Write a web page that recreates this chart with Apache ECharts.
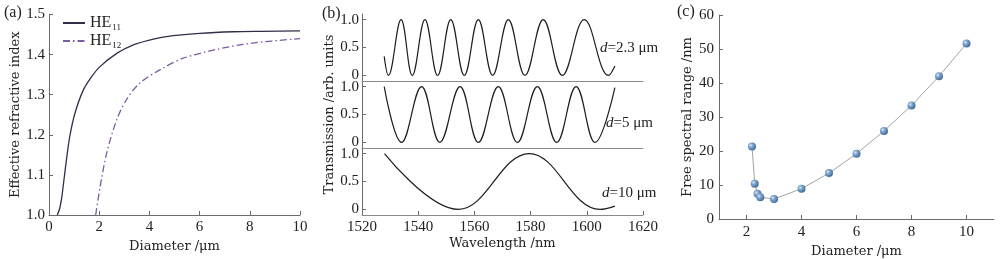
<!DOCTYPE html>
<html><head><meta charset="utf-8">
<script src="https://cdn.jsdelivr.net/npm/echarts@6/dist/echarts.min.js"></script>
<style>html,body{margin:0;padding:0;background:#fff}#c{width:1000px;height:259px}</style>
</head><body><div id="c"></div>
<script>
// ---- Panel (a): effective refractive index vs diameter ----
const he11Diameter = [0.33,0.42,0.5,0.6,0.7,0.83,1.04,1.37,1.7,2.03,2.7,3.36,4.0,4.68,6.01,7.34,8.5,10];
const he11Index    = [1.0,1.015,1.04,1.09,1.14,1.197,1.255,1.312,1.345,1.37,1.403,1.424,1.436,1.445,1.453,1.457,1.458,1.459];
const he12Diameter = [1.86,2.03,2.3,2.7,3.09,3.62,4.42,5.35,6.68,8.01,10];
const he12Index    = [1.0,1.068,1.155,1.238,1.288,1.329,1.362,1.391,1.413,1.428,1.440];
const aXTicks = [0,2,4,6,8,10];
const aYTicks = [1.0,1.1,1.2,1.3,1.4,1.5];

// ---- Panel (b): transmission spectra (peaks / troughs) ----
const t23Wavelength = [1527.9,1529.4,1533.9,1537.9,1542.4,1546.9,1551.6,1556.4,1561.4,1566.5,1572.1,1578.0,1584.5,1591.3,1599.1,1607.7,1610];
const t23Value      = [0.34,0,1,0,1,0,1,0,1,0,1,0,1,0,1,0,0.17];
const t5Wavelength  = [1527.9,1534.1,1541.2,1547.7,1554.9,1561.4,1568.5,1575.3,1582.4,1589.3,1596.2,1602.9,1610];
const t5Value       = [1,0,1,0,1,0,1,0,1,0,1,0,0.98];
const t10Wavelength = [1528,1554.3,1579.5,1604.7,1610];
const t10Value      = [1,0,1,0,0.06];
const bXTicks = [1520,1540,1560,1580,1600,1620];
const bYTicks = [0,0.5,1];
const bLabels = ['2.3 μm','5 μm','10 μm'];

// ---- Panel (c): free spectral range vs diameter ----
const fsrDiameter = [2.2,2.3,2.4,2.5,3,4,5,6,7,8,9,10];
const fsrValue    = [21.3,10.4,7.4,6.4,5.9,8.9,13.5,19.2,25.9,33.4,42.0,51.6];
const cXTicks = [2,4,6,8,10];
const cYTicks = [0,10,20,30,40,50,60];

const zip = (a,b) => a.map((v,i)=>[v,b[i]]);
const NUM = 'Liberation Serif', TXT = 'DejaVu Serif';
const AX = '#6a6a6a';

function axBase(extra){
  return Object.assign({
    type:'value',
    splitLine:{show:false},
    axisLine:{show:true,lineStyle:{color:AX,width:1}},
    axisTick:{show:true,inside:true,length:4,lineStyle:{color:AX,width:1}},
    axisLabel:{fontFamily:NUM,fontSize:15,color:'#222'},
    nameLocation:'middle',
    nameTextStyle:{fontFamily:TXT,fontSize:13,color:'#222'}
  }, extra);
}

const chart = echarts.init(document.getElementById('c'), null, {renderer:'canvas'});
const grids = [
  {left:49, top:14.5, width:251, height:200.5},
  {left:362, top:14, width:281, height:67},
  {left:362, top:81, width:281, height:67},
  {left:362, top:148, width:281, height:67},
  {left:719, top:15, width:275, height:204}
].map(g=>Object.assign(g,{containLabel:false, outerBoundsMode:'none'}));

const bYAxis = (gi, extra) => axBase(Object.assign({
  gridIndex:gi, min:-0.1, max:1.1,
  axisTick:{show:true,inside:true,length:4,lineStyle:{color:AX},customValues:bYTicks},
  axisLabel:{fontFamily:NUM,fontSize:15,color:'#222',margin:3,customValues:bYTicks,
    formatter:v=> (Math.abs(v)<1e-9 ? '0' : Number(v).toFixed(1))}
}, extra||{}));

const bXHidden = gi => axBase({gridIndex:gi, min:1520, max:1620,
  axisLine:{show:true,onZero:false,lineStyle:{color:'#8a8a8a',width:1}},
  axisTick:{show:false}, axisLabel:{show:false}});

const option = {
  animation:false,
  backgroundColor:'#fff',
  grid: grids,
  legend:{
    left:57, top:10, orient:'vertical', itemWidth:22, itemHeight:14, itemGap:1,
    data:[{name:'HE11',itemStyle:{opacity:0}},{name:'HE12',itemStyle:{opacity:0}}],
    formatter: n => '{m|HE}{s|' + n.slice(2) + '}',
    textStyle:{color:'#222', rich:{
      m:{fontFamily:NUM,fontSize:16,color:'#222'},
      s:{fontFamily:NUM,fontSize:9,color:'#222',verticalAlign:'bottom',padding:[9,0,0,1]}
    }}
  },
  xAxis:[
    axBase({gridIndex:0,min:0,max:10,interval:2,name:'Diameter /μm',nameGap:22,
      axisLabel:{fontFamily:NUM,fontSize:15,color:'#222',margin:5,customValues:aXTicks},
      axisTick:{show:true,inside:true,length:4,lineStyle:{color:AX},customValues:aXTicks}}),
    bXHidden(1),
    bXHidden(2),
    axBase({gridIndex:3,min:1520,max:1620,interval:20,name:'Wavelength /nm',nameGap:22,
      axisLine:{show:true,onZero:false,lineStyle:{color:'#8a8a8a',width:1}},
      axisLabel:{fontFamily:NUM,fontSize:15,color:'#222',margin:5,customValues:bXTicks,formatter:v=>String(Math.round(v))},
      axisTick:{show:true,inside:true,length:4,lineStyle:{color:AX},customValues:bXTicks}}),
    axBase({gridIndex:4,min:1,max:11,name:'Diameter /μm',nameGap:22,
      axisLabel:{fontFamily:NUM,fontSize:15,color:'#222',margin:6,customValues:cXTicks},
      axisTick:{show:true,inside:true,length:4,lineStyle:{color:AX},customValues:cXTicks}})
  ],
  yAxis:[
    axBase({gridIndex:0,min:1,max:1.5,interval:0.1,name:'Effective refractive index',nameGap:27,
      axisLabel:{fontFamily:NUM,fontSize:15,color:'#222',margin:4,customValues:aYTicks,formatter:v=>Number(v).toFixed(1)},
      axisTick:{show:true,inside:true,length:4,lineStyle:{color:AX},customValues:aYTicks}}),
    bYAxis(1),
    bYAxis(2,{name:'Transmission /arb. units',nameGap:25}),
    bYAxis(3),
    axBase({gridIndex:4,min:0,max:60,interval:10,name:'Free spectral range /nm',nameGap:25,
      axisLabel:{fontFamily:NUM,fontSize:15,color:'#222',margin:5,customValues:cYTicks},
      axisTick:{show:true,inside:true,length:4,lineStyle:{color:AX},customValues:cYTicks}})
  ],
  series:[
    {name:'HE11',type:'line',xAxisIndex:0,yAxisIndex:0,data:zip(he11Diameter,he11Index),
     smooth:0.3,symbol:'none',lineStyle:{color:'#2f2f4a',width:1.3},itemStyle:{color:'#2f2f4a'}},
    {name:'HE12',type:'line',xAxisIndex:0,yAxisIndex:0,data:zip(he12Diameter,he12Index),
     smooth:0.3,symbol:'none',lineStyle:{color:'#7b5c9e',width:1.3,type:[7,3,1.5,3]},itemStyle:{color:'#7b5c9e'}},
    {type:'line',xAxisIndex:1,yAxisIndex:1,data:zip(t23Wavelength,t23Value),smooth:0.4,symbol:'none',
     lineStyle:{color:'#1e1e1e',width:1.2}},
    {type:'line',xAxisIndex:2,yAxisIndex:2,data:zip(t5Wavelength,t5Value),smooth:0.4,symbol:'none',
     lineStyle:{color:'#1e1e1e',width:1.2}},
    {type:'line',xAxisIndex:3,yAxisIndex:3,data:zip(t10Wavelength,t10Value),smooth:0.4,symbol:'none',
     lineStyle:{color:'#1e1e1e',width:1.2}},
    {type:'line',xAxisIndex:4,yAxisIndex:4,data:zip(fsrDiameter,fsrValue),symbol:'circle',symbolSize:8,
     showAllSymbol:true,lineStyle:{color:'#8c8c8c',width:0.8},
     itemStyle:{color:{type:'radial',x:0.35,y:0.35,r:0.75,colorStops:[
       {offset:0,color:'#dbe8f5'},{offset:0.35,color:'#7da4cb'},{offset:1,color:'#35618f'}]}}}
  ],
  graphic:[
    {type:'text',x:4,y:13,style:{text:'(a)',font:'16px "Liberation Serif"',fill:'#222',verticalAlign:'middle'}},
    {type:'text',x:322,y:14,style:{text:'(b)',font:'16px "Liberation Serif"',fill:'#222',verticalAlign:'middle'}},
    {type:'text',x:677,y:12,style:{text:'(c)',font:'16px "Liberation Serif"',fill:'#222',verticalAlign:'middle'}},
    {type:'text',x:600,y:48,style:{text:'{i|d}=' + bLabels[0],font:'15px "Liberation Serif"',fill:'#222',verticalAlign:'middle',
      rich:{i:{fontStyle:'italic',fontFamily:NUM,fontSize:15}}}},
    {type:'text',x:606,y:123,style:{text:'{i|d}=' + bLabels[1],font:'15px "Liberation Serif"',fill:'#222',verticalAlign:'middle',
      rich:{i:{fontStyle:'italic',fontFamily:NUM,fontSize:15}}}},
    {type:'text',x:602,y:193,style:{text:'{i|d}=' + bLabels[2],font:'15px "Liberation Serif"',fill:'#222',verticalAlign:'middle',
      rich:{i:{fontStyle:'italic',fontFamily:NUM,fontSize:15}}}}
  ]
};
chart.setOption(option);
</script></body></html>
